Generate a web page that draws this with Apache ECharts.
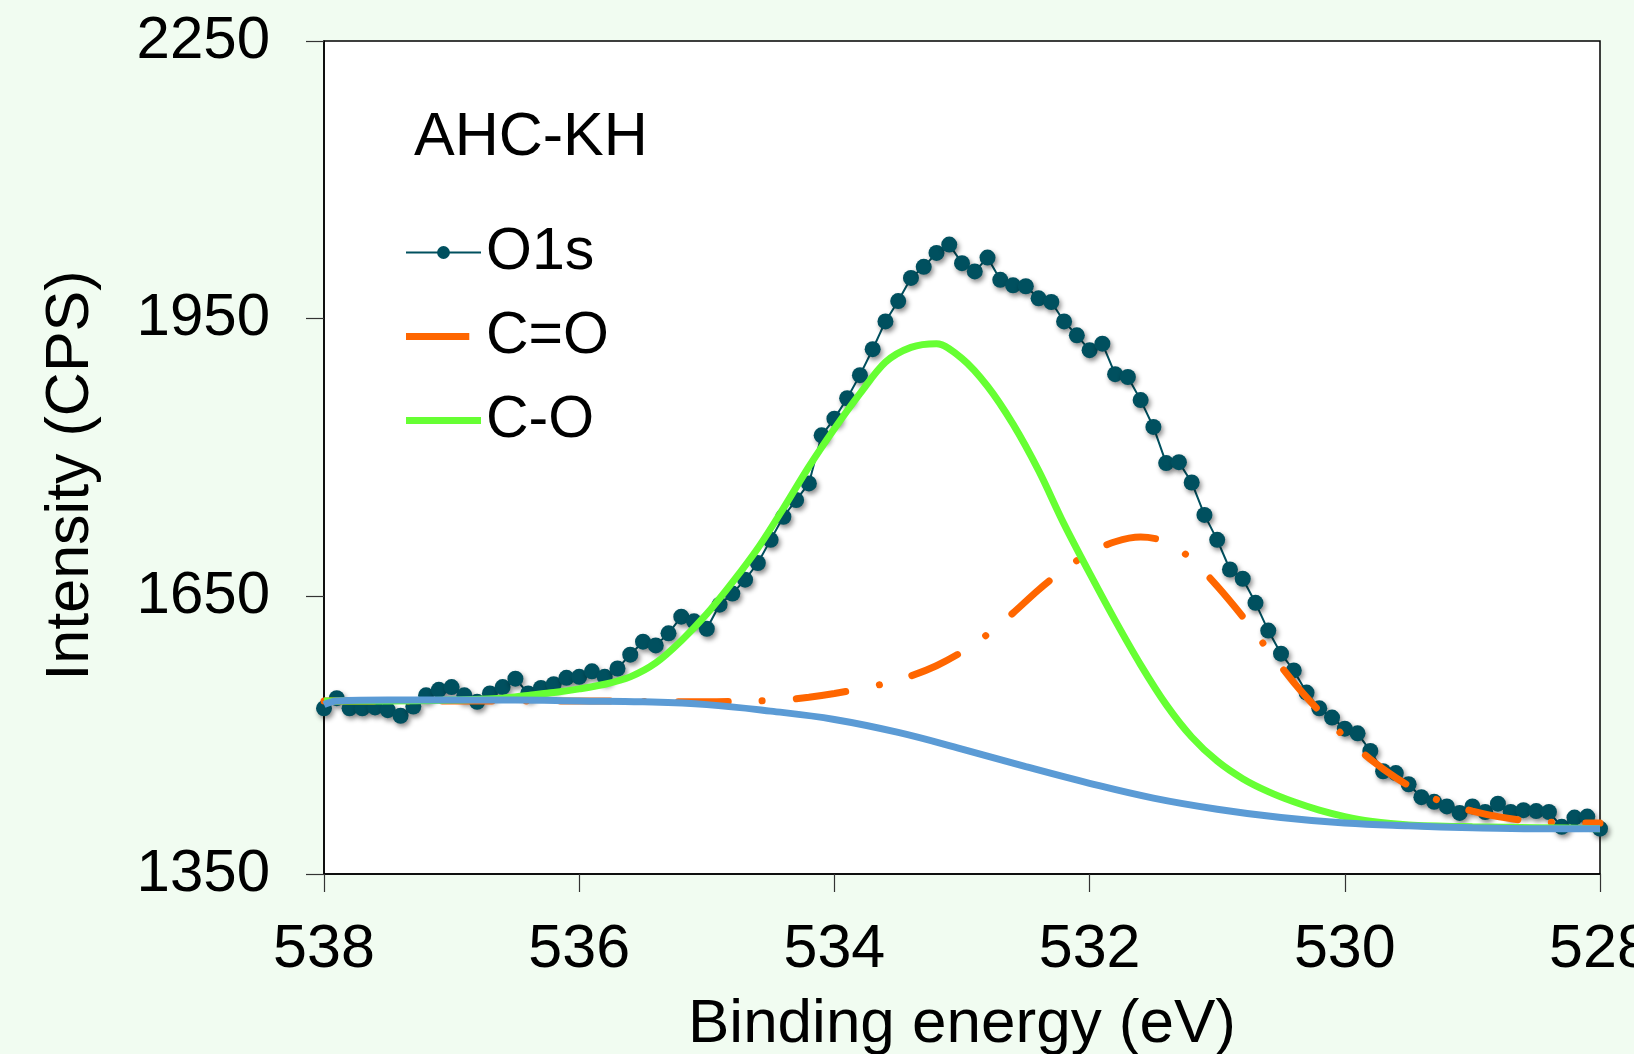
<!DOCTYPE html>
<html>
<head>
<meta charset="utf-8">
<style>
html,body{margin:0;padding:0;background:#F1FCF1;}
#chart{width:1634px;height:1054px;}
</style>
<script src="https://cdn.jsdelivr.net/npm/echarts@6/dist/echarts.min.js"></script>
</head>
<body>
<div id="chart"></div>
<script>
// Measured O1s spectrum (binding energy, eV)
var energy = [538.0,537.9,537.8,537.7,537.6,537.5,537.4,537.3,537.2,537.1,
537.0,536.9,536.8,536.7,536.6,536.5,536.4,536.3,536.2,536.1,
536.0,535.9,535.8,535.7,535.6,535.5,535.4,535.3,535.2,535.1,
535.0,534.9,534.8,534.7,534.6,534.5,534.4,534.3,534.2,534.1,
534.0,533.9,533.8,533.7,533.6,533.5,533.4,533.3,533.2,533.1,
533.0,532.9,532.8,532.7,532.6,532.5,532.4,532.3,532.2,532.1,
532.0,531.9,531.8,531.7,531.6,531.5,531.4,531.3,531.2,531.1,
531.0,530.9,530.8,530.7,530.6,530.5,530.4,530.3,530.2,530.1,
530.0,529.9,529.8,529.7,529.6,529.5,529.4,529.3,529.2,529.1,
529.0,528.9,528.8,528.7,528.6,528.5,528.4,528.3,528.2,528.1,528.0];
var o1s = [1529,1540,1529,1529,1530,1527,1521,1531,1543,1549,
1552,1543,1536,1545,1552,1561,1545,1551,1555,1562,
1563,1569,1563,1572,1587,1601,1597,1610,1628,1623,
1615,1641,1653,1668,1686,1711,1736,1754,1772,1824,
1842,1864,1889,1917,1947,1969,1994,2006,2021,2030,
2010,2001,2016,1992,1986,1985,1972,1968,1947,1932,
1916,1923,1890,1887,1862,1833,1794,1795,1773,1738,
1711,1679,1669,1643,1613,1588,1570,1546,1529,1519,
1507,1502,1483,1461,1459,1447,1433,1428,1423,1416,
1423,1417,1426,1417,1419,1418,1417,1401,1411,1412,1399];

// C=O fitted component
var coDoubleE = [538.0,537.0,536.0,535.0,534.6,534.4,534.2,534.0,533.8,533.6,533.4,533.2,533.0,532.8,532.6,532.4,532.2,532.0,531.8,531.6,531.4,531.2,531.0,530.8,530.6,530.4,530.2,530.0,529.8,529.6,529.4,529.2,529.0,528.8,528.6,528.4,528.0];
var coDoubleI = [1537,1537,1537,1536,1537,1538,1541,1545,1550,1556,1564,1575,1590,1609,1632,1657,1679,1697,1709,1714,1709,1690,1661,1628,1592,1557,1526,1498,1474,1454,1438,1426,1418,1412,1408,1406,1405];

// C-O fitted component
var coSingleE = [538.0,537.5,537.0,536.6,536.4,536.2,536.0,535.8,535.6,535.4,535.2,535.0,534.8,534.6,534.4,534.2,534.0,533.8,533.6,533.4,533.2,533.0,532.8,532.6,532.4,532.2,532.0,531.8,531.6,531.4,531.2,531.0,530.8,530.6,530.4,530.2,530.0,529.8,529.5,529.0,528.5,528.0];
var coSingleI = [1537,1537,1538,1540,1543,1546,1550,1555,1563,1578,1602,1631,1665,1702,1745,1790,1831,1869,1903,1919,1923,1907,1877,1836,1786,1728,1675,1624,1576,1533,1498,1472,1453,1439,1428,1419,1412,1407,1403,1401,1400,1399];

// Background (Shirley)
var bgE = [538.0,537.9,537.5,537.0,536.5,536.0,535.5,535.0,534.5,534.0,533.5,533.0,532.5,532.0,531.5,531.0,530.5,530.0,529.5,529.0,528.5,528.0];
var bgI = [1533,1537,1538,1538,1538,1537,1536,1533,1526,1517,1503,1485,1466,1448,1432,1420,1411,1405,1402,1400,1399,1399];

var xTicks = {min:528, max:538, interval:2};
var yTicks = {min:1350, max:2250, interval:300};

function pairs(xs, ys){ return xs.map(function(x,i){ return [x, ys[i]]; }); }

var FONT = 'Liberation Sans, Arial, sans-serif';
var barIcon77 = 'path://M0,0 H77 V7 H0 Z';
var barIcon65 = 'path://M0,0 H65 V7 H0 Z M77,3 L77.01,3 L77.01,3.01 Z';

var chart = echarts.init(document.getElementById('chart'), null, {renderer:'canvas'});
chart.setOption({
  backgroundColor: '#F1FCF1',
  animation: false,
  textStyle: {fontFamily: FONT, color:'#000'},
  title: {
    text: 'AHC-KH', left: 409, top: 103,
    textStyle: {fontFamily: FONT, fontSize: 61, fontWeight: 'normal', color:'#000'}
  },
  legend: {
    orient: 'vertical', left: 400, top: 218,
    itemWidth: 75, itemHeight: 16, itemGap: 25,
    symbolKeepAspect: true,
    textStyle: {fontFamily: FONT, fontSize: 59, color:'#000'},
    data: [
      {name:'O1s'},
      {name:'C=O', icon: barIcon65, itemStyle:{color:'#FF6600'}},
      {name:'C-O', icon: barIcon77, itemStyle:{color:'#66FF33'}}
    ]
  },
  grid: {left: 324, right: 34, top: 41, bottom: 180, show: true,
         outerBoundsMode: 'none', containLabel: false,
         backgroundColor: '#fff', borderColor: '#000', borderWidth: 1.5},
  xAxis: {
    type: 'value', inverse: true,
    min: xTicks.min, max: xTicks.max, interval: xTicks.interval,
    name: 'Binding energy (eV)', nameLocation: 'middle', nameGap: 120, nameMoveOverlap: false,
    nameTextStyle: {fontFamily: FONT, fontSize: 62, color:'#000'},
    axisLine: {show: true, lineStyle: {color:'#000', width: 1.5}},
    axisTick: {show: true, length: 18, lineStyle: {color:'#333', width: 1.2}},
    axisLabel: {fontFamily: FONT, fontSize: 61, color:'#000', margin: 46},
    splitLine: {show: false}
  },
  yAxis: {
    type: 'value',
    min: yTicks.min, max: yTicks.max, interval: yTicks.interval,
    name: 'Intensity (CPS)', nameLocation: 'middle', nameGap: 222, nameRotate: 90, nameMoveOverlap: false,
    nameTextStyle: {fontFamily: FONT, fontSize: 61, color:'#000', padding:[0,36,0,0]},
    axisLine: {show: true, lineStyle: {color:'#000', width: 1.5}},
    axisTick: {show: true, length: 18, lineStyle: {color:'#333', width: 1.2}},
    axisLabel: {fontFamily: FONT, fontSize: 60, color:'#000', margin: 54,
                formatter: function(v){ return String(v); }},
    splitLine: {show: false}
  },
  series: [
    {
      name: 'O1s', type: 'line', z: 2,
      data: pairs(energy, o1s),
      symbol: 'circle', symbolSize: 16, showAllSymbol: true,
      lineStyle: {color:'#00505F', width: 2},
      itemStyle: {color:'#00505F', shadowBlur: 5, shadowColor:'rgba(0,0,0,0.45)', shadowOffsetX: 2, shadowOffsetY: 3}
    },
    {
      name: 'C=O', type: 'line', z: 3, smooth: 0.3,
      data: pairs(coDoubleE, coDoubleI), symbol: 'none',
      lineStyle: {color:'#FF6600', width: 7, type: [50, 34, 0.1, 34], cap: 'round'},
      itemStyle: {color:'#FF6600'}
    },
    {
      name: 'C-O', type: 'line', z: 4, smooth: 0.3,
      data: pairs(coSingleE, coSingleI), symbol: 'none',
      lineStyle: {color:'#66FF33', width: 7},
      itemStyle: {color:'#66FF33'}
    },
    {
      name: 'Background', type: 'line', z: 5, smooth: 0.4,
      data: pairs(bgE, bgI), symbol: 'none',
      lineStyle: {color:'#5B9BD5', width: 7},
      itemStyle: {color:'#5B9BD5'}
    }
  ]
});
</script>
</body>
</html>
